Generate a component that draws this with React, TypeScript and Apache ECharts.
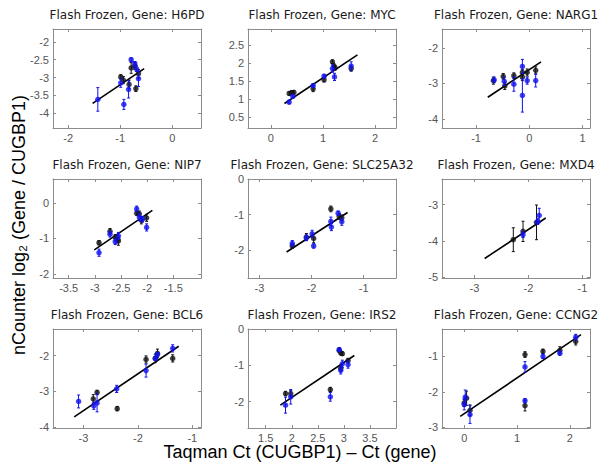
import React, { useEffect, useRef } from 'react';
import * as echarts from 'echarts';

// ---------- DATA ----------
const GENES = ['H6PD', 'MYC', 'NARG1', 'NIP7', 'SLC25A32', 'MXD4', 'BCL6', 'IRS2', 'CCNG2'];

const X_RANGES = [
  [-2.29, 0.55], [-0.44, 2.4], [-1.64, 1.14],
  [-3.8, -0.97], [-3.22, -0.38], [-3.6, -0.86],
  [-3.56, -0.84], [1.16, 4.0], [-0.42, 2.38],
];
const Y_RANGES = [
  [-4.41, -1.64], [0.2, 2.95], [-4.26, -1.46],
  [-2.11, 0.67], [-2.78, 0], [-5.03, -2.29],
  [-4.02, -1.26], [-2.73, 0], [-3.02, -0.23],
];
const X_TICKS = [
  [-2, -1, 0], [0, 1, 2], [-1, 0, 1],
  [-3.5, -3, -2.5, -2, -1.5], [-3, -2, -1], [-3, -2, -1],
  [-3, -2, -1], [1.5, 2, 2.5, 3, 3.5], [0, 1, 2],
];
const Y_TICKS = [
  [-4, -3.5, -3, -2.5, -2], [0.5, 1, 1.5, 2, 2.5], [-4, -3, -2],
  [-2, -1, 0], [-2, -1, 0], [-5, -4, -3],
  [-4, -3, -2], [-2, -1, 0], [-3, -2, -1],
];

// [x, y, error]
const H6PD_BLACK = [[-0.99, -2.98, 0.06], [-0.94, -3.07, 0.1], [-0.83, -3.19, 0.12], [-0.79, -2.73, 0.15], [-0.72, -2.67, 0.1], [-0.7, -3.31, 0.08], [-0.65, -2.89, 0.12]];
const H6PD_BLUE = [[-1.43, -3.61, 0.33], [-0.99, -3.15, 0.12], [-0.93, -3.75, 0.14], [-0.84, -3.33, 0.24], [-0.79, -2.5, 0.05], [-0.72, -2.61, 0.06], [-0.69, -2.75, 0.08], [-0.65, -3.03, 0.22]];
const H6PD_FIT = [[-1.53, -3.72], [-0.54, -2.75]];

const MYC_BLACK = [[0.35, 1.16, 0.05], [0.4, 1.18, 0.06], [0.44, 1.19, 0.05], [0.81, 1.29, 0.08], [1.02, 1.54, 0.06], [1.18, 2.04, 0.05], [1.21, 1.92, 0.06], [1.23, 1.87, 0.06], [1.54, 1.85, 0.07]];
const MYC_BLUE = [[0.35, 0.92, 0.05], [0.42, 1.08, 0.05], [0.81, 1.38, 0.05], [1.02, 1.64, 0.05], [1.18, 1.85, 0.1], [1.22, 1.62, 0.1], [1.54, 1.92, 0.12]];
const MYC_FIT = [[0.26, 0.88], [1.66, 2.23]];

const NARG1_BLACK = [[-0.675, -2.92, 0.1], [-0.49, -2.8, 0.08], [-0.46, -3.07, 0.1], [-0.29, -2.78, 0.08], [-0.13, -2.69, 0.08], [-0.13, -2.82, 0.1], [-0.04, -2.69, 0.1], [0.12, -2.63, 0.1]];
const NARG1_BLUE = [[-0.66, -2.9, 0.08], [-0.47, -2.94, 0.12], [-0.29, -3.02, 0.2], [-0.13, -2.52, 0.2], [-0.13, -3.34, 0.47], [-0.04, -2.92, 0.1], [0.12, -2.92, 0.18]];
const NARG1_FIT = [[-0.78, -3.39], [0.22, -2.39]];

const NIP7_BLACK = [[-2.92, -1.12, 0.06], [-2.71, -0.8, 0.08], [-2.61, -0.97, 0.08], [-2.56, -1.02, 0.1], [-2.55, -1.07, 0.12], [-2.2, -0.29, 0.06], [-2.15, -0.31, 0.08], [-2.11, -0.49, 0.1], [-2.01, -0.42, 0.1]];
const NIP7_BLUE = [[-2.92, -1.4, 0.1], [-2.71, -0.88, 0.08], [-2.61, -1.09, 0.08], [-2.55, -0.93, 0.1], [-2.2, -0.17, 0.08], [-2.15, -0.4, 0.1], [-2.09, -0.46, 0.08], [-2.01, -0.69, 0.1]];
const NIP7_FIT = [[-3.01, -1.32], [-1.9, -0.21]];

const SLC25A32_BLACK = [[-2.37, -1.88, 0.06], [-2.1, -1.63, 0.1], [-1.96, -1.67, 0.12], [-1.63, -0.84, 0.08], [-1.47, -1.05, 0.08], [-1.42, -1.09, 0.08]];
const SLC25A32_BLUE = [[-2.37, -1.81, 0.08], [-2.1, -1.65, 0.08], [-1.99, -1.54, 0.1], [-1.96, -1.88, 0.06], [-1.63, -1.19, 0.12], [-1.62, -1.35, 0.1], [-1.49, -0.96, 0.06], [-1.42, -1.2, 0.1]];
const SLC25A32_FIT = [[-2.48, -2.05], [-1.31, -0.94]];

const MXD4_BLACK = [[-2.28, -3.97, 0.33], [-2.1, -3.74, 0.28], [-1.85, -3.49, 0.48]];
const MXD4_BLUE = [[-2.1, -3.83, 0.08], [-1.83, -3.47, 0.08], [-1.8, -3.3, 0.2]];
const MXD4_FIT = [[-2.81, -4.49], [-1.68, -3.37]];

const BCL6_BLACK = [[-2.82, -3.21, 0.12], [-2.75, -3.03, 0.06], [-2.38, -3.48, 0.06], [-1.85, -2.11, 0.1], [-1.68, -2.08, 0.12], [-1.64, -1.94, 0.12], [-1.36, -2.08, 0.1]];
const BCL6_BLUE = [[-3.09, -3.28, 0.18], [-2.81, -3.4, 0.1], [-2.75, -3.32, 0.25], [-2.39, -2.93, 0.1], [-1.85, -2.42, 0.18], [-1.68, -2.08, 0.06], [-1.64, -1.97, 0.06], [-1.36, -1.8, 0.1]];
const BCL6_FIT = [[-3.17, -3.71], [-1.25, -1.74]];

const IRS2_BLACK = [[1.88, -1.78, 0.06], [1.98, -1.78, 0.08], [2.74, -1.67, 0.06], [2.91, -0.59, 0.05], [2.94, -0.66, 0.05], [2.97, -0.68, 0.05], [2.94, -1.08, 0.08], [3.08, -0.87, 0.06]];
const IRS2_BLUE = [[1.88, -2.1, 0.22], [1.98, -1.87, 0.2], [2.74, -1.87, 0.12], [2.91, -0.57, 0.06], [2.97, -0.96, 0.1], [2.94, -1.14, 0.1], [3.08, -0.98, 0.1]];
const IRS2_FIT = [[1.78, -2.1], [3.2, -0.73]];

const CCNG2_BLACK = [[0.0, -2.31, 0.1], [0.045, -2.18, 0.2], [0.11, -2.52, 0.15], [1.15, -0.95, 0.08], [1.15, -2.39, 0.15], [1.49, -0.86, 0.06], [1.81, -0.83, 0.1], [2.11, -0.58, 0.1]];
const CCNG2_BLUE = [[0.02, -2.15, 0.2], [0.0, -2.36, 0.15], [0.11, -2.64, 0.25], [1.15, -1.3, 0.15], [1.15, -2.25, 0.06], [1.49, -1.0, 0.06], [1.81, -0.91, 0.06], [2.11, -0.46, 0.08]];
const CCNG2_FIT = [[-0.075, -2.69], [2.21, -0.39]];

const BLACK_SETS = [H6PD_BLACK, MYC_BLACK, NARG1_BLACK, NIP7_BLACK, SLC25A32_BLACK, MXD4_BLACK, BCL6_BLACK, IRS2_BLACK, CCNG2_BLACK];
const BLUE_SETS = [H6PD_BLUE, MYC_BLUE, NARG1_BLUE, NIP7_BLUE, SLC25A32_BLUE, MXD4_BLUE, BCL6_BLUE, IRS2_BLUE, CCNG2_BLUE];
const FIT_SETS = [H6PD_FIT, MYC_FIT, NARG1_FIT, NIP7_FIT, SLC25A32_FIT, MXD4_FIT, BCL6_FIT, IRS2_FIT, CCNG2_FIT];

const TITLE_PREFIX = 'Flash Frozen, Gene: ';
const X_LABEL = 'Taqman Ct (CUGBP1) \u2013 Ct (gene)';
const Y_LABEL = 'nCounter log\u2082 (Gene / CUGBP1)';

// ---------- LAYOUT / STYLE ----------
const COL_LEFT = [53, 248, 442];
const ROW_TOP = [29, 179, 329];
const BOX_W = 148;
const BOX_H = 99;
const FONT = "'Liberation Sans', Arial, Helvetica, sans-serif";
const TITLE_FONT = "'DejaVu Sans', 'Liberation Sans', sans-serif";
const BOX_COLOR = '#8c8c8c';
const TICK_LABEL_COLOR = '#555555';
const BLUE = '#1010f0';
const BLACK = '#111111';

function errRender(color: string) {
  return (params: any, api: any) => {
    const x = api.value(0);
    const y = api.value(1);
    const e = api.value(2);
    const top = api.coord([x, y + e]);
    const bot = api.coord([x, y - e]);
    const cw = 1.5;
    return {
      type: 'group',
      children: [
        { type: 'line', shape: { x1: top[0], y1: top[1], x2: bot[0], y2: bot[1] }, style: { stroke: color, lineWidth: 1 } },
        { type: 'line', shape: { x1: top[0] - cw, y1: top[1], x2: top[0] + cw, y2: top[1] }, style: { stroke: color, lineWidth: 1 } },
        { type: 'line', shape: { x1: bot[0] - cw, y1: bot[1], x2: bot[0] + cw, y2: bot[1] }, style: { stroke: color, lineWidth: 1 } },
      ],
    };
  };
}

function buildOption() {
  const grid: any[] = [];
  const xAxis: any[] = [];
  const yAxis: any[] = [];
  const series: any[] = [];
  const graphic: any[] = [];

  const axisLine = { show: true, onZero: false, lineStyle: { color: BOX_COLOR, width: 1 } };
  const tickStyle = (vals: number[]) => ({ show: true, inside: true, length: 3, customValues: vals, lineStyle: { color: BOX_COLOR, width: 1 } });
  const labelStyle = (vals: number[], margin: number) => ({
    show: true, customValues: vals, color: TICK_LABEL_COLOR, fontSize: 11, fontFamily: FONT, margin,
    showMinLabel: true, showMaxLabel: true, hideOverlap: false,
  });

  GENES.forEach((gene, i) => {
    const col = i % 3;
    const row = Math.floor(i / 3);
    const left = COL_LEFT[col];
    const top = ROW_TOP[row];
    grid.push({ left, top, width: BOX_W, height: BOX_H });

    const [xmin, xmax] = X_RANGES[i];
    const [ymin, ymax] = Y_RANGES[i];
    xAxis.push({ type: 'value', gridIndex: i, position: 'bottom', min: xmin, max: xmax, axisLine, splitLine: { show: false }, axisTick: tickStyle(X_TICKS[i]), axisLabel: labelStyle(X_TICKS[i], 4) });
    xAxis.push({ type: 'value', gridIndex: i, position: 'top', min: xmin, max: xmax, axisLine, splitLine: { show: false }, axisTick: tickStyle(X_TICKS[i]), axisLabel: { show: false } });
    yAxis.push({ type: 'value', gridIndex: i, position: 'left', min: ymin, max: ymax, axisLine, splitLine: { show: false }, axisTick: tickStyle(Y_TICKS[i]), axisLabel: labelStyle(Y_TICKS[i], 4) });
    yAxis.push({ type: 'value', gridIndex: i, position: 'right', min: ymin, max: ymax, axisLine, splitLine: { show: false }, axisTick: tickStyle(Y_TICKS[i]), axisLabel: { show: false } });

    const xi = 2 * i;
    const yi = 2 * i;
    series.push({ type: 'line', xAxisIndex: xi, yAxisIndex: yi, data: FIT_SETS[i], symbol: 'none', lineStyle: { color: '#000', width: 1.6 }, z: 1, silent: true });
    series.push({ type: 'custom', xAxisIndex: xi, yAxisIndex: yi, data: BLACK_SETS[i], encode: { x: 0, y: 1 }, renderItem: errRender(BLACK), z: 2, silent: true });
    series.push({ type: 'scatter', xAxisIndex: xi, yAxisIndex: yi, data: BLACK_SETS[i].map((p) => [p[0], p[1]]), symbolSize: 5.5, itemStyle: { color: BLACK }, z: 3, silent: true });
    series.push({ type: 'custom', xAxisIndex: xi, yAxisIndex: yi, data: BLUE_SETS[i], encode: { x: 0, y: 1 }, renderItem: errRender(BLUE), z: 4, silent: true });
    series.push({ type: 'scatter', xAxisIndex: xi, yAxisIndex: yi, data: BLUE_SETS[i].map((p) => [p[0], p[1]]), symbolSize: 5.5, itemStyle: { color: BLUE }, z: 5, silent: true });

    graphic.push({
      type: 'text', x: left + BOX_W / 2, y: top - 14,
      style: { text: TITLE_PREFIX + gene, align: 'center', verticalAlign: 'middle', fontSize: 12, fontFamily: TITLE_FONT, fill: '#1a1a1a' },
    });
  });

  graphic.push({
    type: 'text', x: 300, y: 452,
    style: { text: X_LABEL, align: 'center', verticalAlign: 'middle', fontSize: 18, fontFamily: FONT, fill: '#000' },
  });
  graphic.push({
    type: 'text', x: 19, y: 225, rotation: Math.PI / 2,
    style: { text: Y_LABEL, align: 'center', verticalAlign: 'middle', fontSize: 18, fontFamily: FONT, fill: '#000' },
  });

  return {
    animation: false,
    backgroundColor: '#ffffff',
    grid,
    xAxis,
    yAxis,
    series,
    graphic,
  };
}

export default function App() {
  const ref = useRef<HTMLDivElement>(null);
  useEffect(() => {
    if (!ref.current) return;
    const chart = echarts.init(ref.current, undefined, { renderer: 'svg' });
    chart.setOption(buildOption() as any);
    return () => chart.dispose();
  }, []);
  return <div ref={ref} style={{ position: 'absolute', left: 0, top: 0, width: 603, height: 470, background: '#fff' }} />;
}
